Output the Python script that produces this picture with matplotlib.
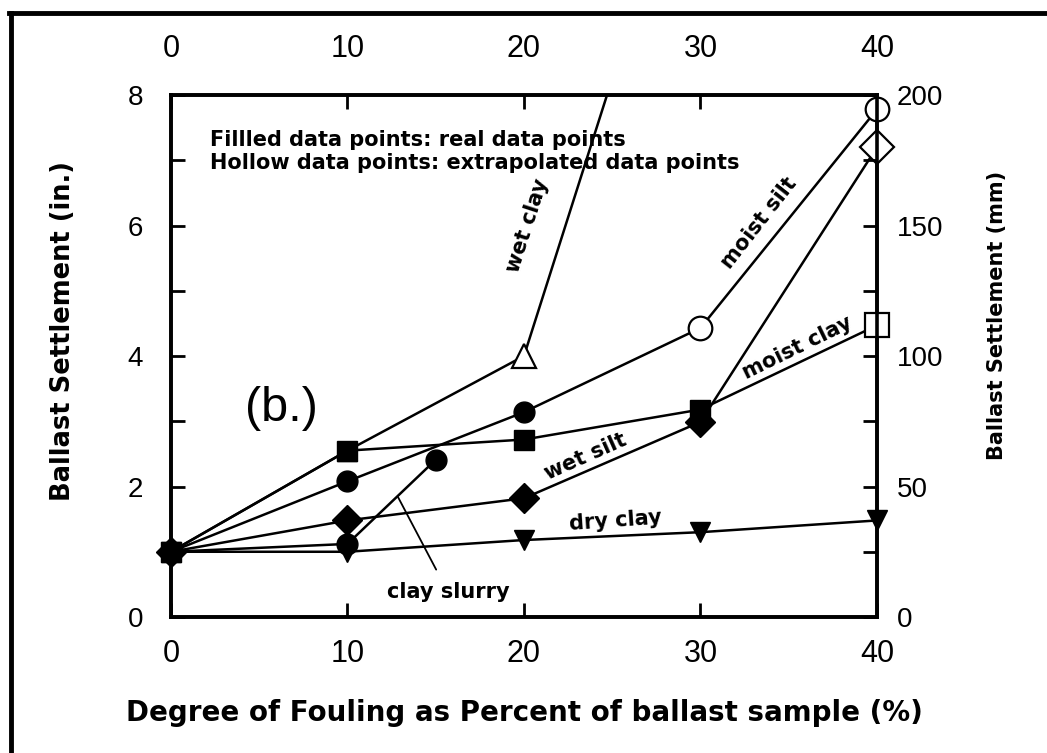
import matplotlib
matplotlib.use('Agg')
import matplotlib.pyplot as plt
from matplotlib.ticker import MultipleLocator

plt.rcParams['font.family'] = ['Liberation Sans', 'DejaVu Sans']

# fouling (%) and settlement (in.)
fouling_pct = [0, 10, 20, 30, 40]
dry_clay = [1.0, 1.0, 1.18, 1.30, 1.48]
wet_silt = [1.0, 1.48, 1.82, 2.99, 7.20]
moist_clay = [1.0, 2.55, 2.72, 3.18, 4.47]
moist_silt = [1.0, 2.08, 3.14, 4.43, 7.78]
wet_clay_pct = [0, 10, 20, 25]
wet_clay = [1.0, 2.55, 4.0, 8.25]
clay_slurry_pct = [0, 10, 15]
clay_slurry = [1.0, 1.12, 2.41]

x_ticks = [0, 10, 20, 30, 40]
in_ticks = [0, 2, 4, 6, 8]
mm_ticks = [0, 50, 100, 150, 200]

# (x, y, marker, measured points, extrapolated points) - rest is just line
series = [
    (fouling_pct, dry_clay, 'v', 5, 0),
    (fouling_pct, wet_silt, 'D', 4, 1),
    (fouling_pct, moist_clay, 's', 4, 1),
    (fouling_pct, moist_silt, 'o', 3, 2),
    (wet_clay_pct, wet_clay, '^', 2, 1),
    (clay_slurry_pct, clay_slurry, 'o', 3, 0),
]

fig = plt.figure(figsize=(10.47, 7.53), dpi=100)
ax = fig.add_axes([0.1633, 0.1806, 0.6743, 0.6932])

for x, y, marker, n_real, n_hollow in series:
    ax.plot(x, y, color='black', lw=1.8, zorder=2)
    ax.plot(x[:n_real], y[:n_real], ls='none', marker=marker, ms=15,
            mfc='black', mec='black', zorder=3, clip_on=False)
    ax.plot(x[n_real:n_real + n_hollow], y[n_real:n_real + n_hollow],
            ls='none', marker=marker, ms=17, mfc='white', mec='black',
            mew=1.6, zorder=3, clip_on=False)

ax.set_xlim(0, 40)
ax.set_ylim(0, 8)
for s in ax.spines.values():
    s.set_linewidth(2.6)

ax.set_xticks(x_ticks)
ax.set_yticks(in_ticks)
ax.yaxis.set_minor_locator(MultipleLocator(1))
ax.tick_params(which='both', direction='in', length=10, width=2)
ax.tick_params(axis='x', pad=16, labelsize=22)
ax.tick_params(axis='y', pad=20, labelsize=20)

top = ax.secondary_xaxis('top')
top.set_xticks(x_ticks)
top.tick_params(direction='in', length=10, width=2, pad=22, labelsize=22)

right = ax.twinx()
right.set_ylim(0, 200)
right.set_yticks(mm_ticks)
right.yaxis.set_minor_locator(MultipleLocator(25))
right.tick_params(which='both', direction='in', length=10, width=2, pad=14, labelsize=20)
for s in right.spines.values():
    s.set_linewidth(2.6)

lab_font = dict(family='DejaVu Sans', weight='bold')
ax.set_xlabel('Degree of Fouling as Percent of ballast sample (%)', fontsize=20,
              va='center', **lab_font)
ax.xaxis.set_label_coords(0.5, -0.184)
ax.set_ylabel('Ballast Settlement (in.)', fontsize=18.5, va='center', **lab_font)
ax.yaxis.set_label_coords(-0.153, 0.548)
right.set_ylabel('Ballast Settlement (mm)', fontsize=15, va='center',
                 rotation=90, **lab_font)
right.yaxis.set_label_coords(1.170, 0.577)

note = dict(family='DejaVu Sans', weight='bold', fontsize=15)
ax.text(2.2, 7.31, 'Fillled data points: real data points', va='center', **note)
ax.text(2.2, 6.96, 'Hollow data points: extrapolated data points', va='center', **note)
ax.text(4.2, 3.2, '(b.)', fontsize=35, va='center', ha='left')

ax.text(20.2, 6.0, 'wet clay', rotation=72, ha='center', va='center', **note)
ax.text(33.3, 6.04, 'moist silt', rotation=52, ha='center', va='center', **note)
ax.text(35.5, 4.12, 'moist clay', rotation=26, ha='center', va='center', **note)
ax.text(23.5, 2.45, 'wet silt', rotation=24, ha='center', va='center', **note)
ax.text(25.2, 1.47, 'dry clay', rotation=4, ha='center', va='center', **note)
ax.annotate('clay slurry', xy=(12.86, 1.84), xytext=(15.7, 0.38),
            ha='center', va='center',
            arrowprops=dict(arrowstyle='-', color='black', lw=1.3,
                            shrinkA=8, shrinkB=0), **note)

# frame lines of the scanned figure (top and left edge)
fig.add_artist(plt.Line2D([0.009, 1.0], [0.983, 0.983], color='black', lw=3.5))
fig.add_artist(plt.Line2D([0.0105, 0.0105], [0.0, 0.983], color='black', lw=3.5))

fig.savefig('out.png', dpi=100)
